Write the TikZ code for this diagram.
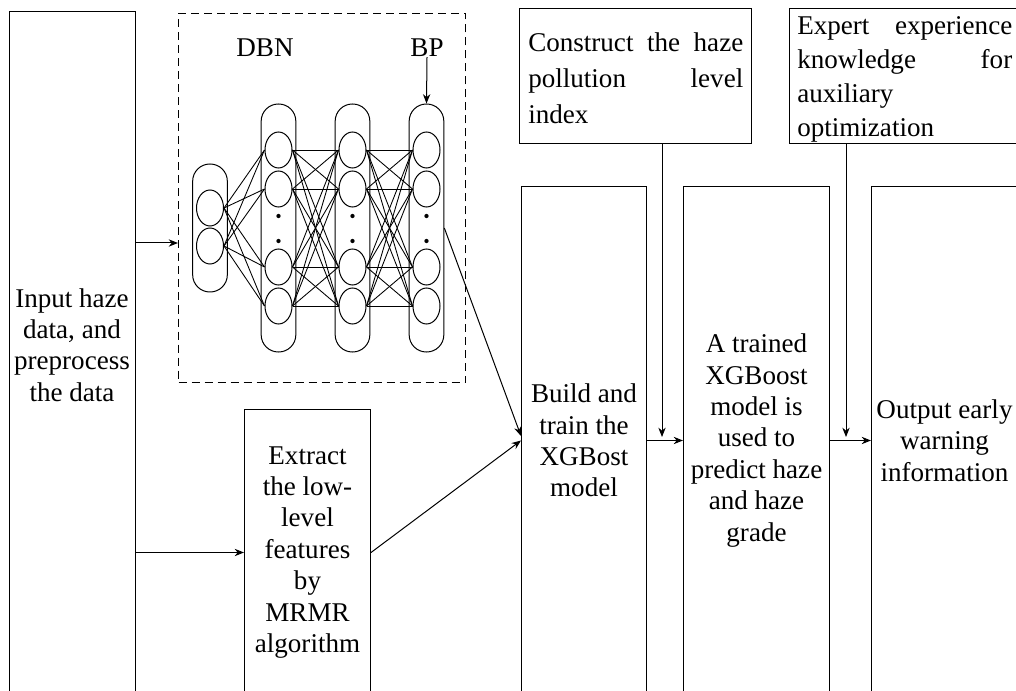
\documentclass[tikz,border=0pt]{standalone}
\usepackage{fontspec}
\setmainfont{Liberation Serif}
\usetikzlibrary{arrows.meta,shapes.geometric}
\begin{document}
\begin{tikzpicture}[x=0.75pt,y=-0.75pt,
  box/.style={draw,line width=0.75pt,rectangle,inner sep=0pt,anchor=north west,
    font=\fontsize{20.3pt}{23.6pt}\selectfont,align=center},
  txt/.style={font=\fontsize{20.3pt}{23.6pt}\selectfont,align=center,inner sep=0pt},
  arr/.style={line width=0.75pt,-{Stealth[length=7pt,width=5.5pt]}},
  cell/.style={draw,ellipse,line width=0.75pt,minimum width=20.25pt,minimum height=27pt,inner sep=0pt},
  layer/.style={draw,rectangle,rounded corners=12.9pt,line width=0.75pt,minimum width=26pt,inner sep=0pt},
  net/.style={line width=0.65pt},
  dotn/.style={circle,fill,inner sep=0pt,minimum size=3.2pt}]

\useasboundingbox (0,0) rectangle (1016,691);
\clip (0,0) rectangle (1016,691);

% main boxes
\node[box,minimum width=94.5pt,minimum height=525pt] (inp) at (9,11) {};
\node[txt] (inpt) at (72,345) {Input haze\\data, and\\preprocess\\the data};
\node[box,dash pattern=on 6pt off 3.75pt,minimum width=215.25pt,minimum height=276.75pt] (dbn) at (178,13) {};
\node[box,minimum width=94.5pt,minimum height=214.5pt] (ext) at (244,409)
  {Extract\\the low-\\level\\features\\by\\MRMR\\algorithm};
\node[box,minimum width=93.75pt,minimum height=381pt] (build) at (521,186)
  {Build and\\train the\\XGBost\\model};
\node[box,minimum width=109.5pt,minimum height=381pt] (pred) at (683,186)
  {A trained\\XGBoost\\model is\\used to\\predict haze\\and haze\\grade};
\node[box,minimum width=109.5pt,minimum height=381pt] (out) at (871,186)
  {Output early\\warning\\information};
\node[box,minimum width=174pt,minimum height=101.25pt] (cons) at (519,8) {};
\node[box,minimum width=174pt,minimum height=101.25pt] (exp) at (789,8) {};
\node[anchor=north west,inner sep=0pt,font=\fontsize{20.3pt}{27pt}\selectfont,align=left] (const) at (528,32)
  {\hbox to 161.25pt{Construct\hfill the\hfill haze}\\\hbox to 161.25pt{pollution\hfill level}\\index};
\node[anchor=north west,inner sep=0pt,font=\fontsize{20.3pt}{25.6pt}\selectfont,align=left] (expt) at (797,16)
  {\hbox to 161.25pt{Expert\hfill experience}\\\hbox to 161.25pt{knowledge\hfill for}\\auxiliary\\optimization};

% network
\node[txt] (dbnl) at (265,48) {DBN};
\node[txt] (bpl) at (427,48) {BP};
\node[layer,minimum height=96pt] (L1) at (210,228) {};
\node[layer,minimum height=186pt] (L2) at (278.5,228) {};
\node[layer,minimum height=186pt] (L3) at (352.5,228) {};
\node[layer,minimum height=186pt] (L4) at (426.5,228) {};
\node[cell] (c11) at (210,208) {};
\node[cell] (c12) at (210,246) {};
\foreach \l/\x in {2/278.5,3/352.5,4/426.5}{
  \node[cell] (c\l1) at (\x,150) {};
  \node[cell] (c\l2) at (\x,189) {};
  \node[cell] (c\l3) at (\x,267) {};
  \node[cell] (c\l4) at (\x,306) {};
  \node[dotn] (d\l a) at (\x,216) {};
  \node[dotn] (d\l b) at (\x,241) {};
}
\foreach \i in {1,2}{\foreach \j in {1,...,4}{\draw[net] (c1\i.east) -- (c2\j.west);}}
\foreach \i in {1,...,4}{\foreach \j in {1,...,4}{
  \draw[net] (c2\i.east) -- (c3\j.west);
  \draw[net] (c3\i.east) -- (c4\j.west);}}
\draw[arr] (bpl.south) -- (L4.north);

% connectors
\coordinate (ya) at (0,243);
\coordinate (yb) at (0,436);
\coordinate (cd) at (662,437);
\coordinate (ed) at (846,437);
\draw[arr] (inp.east |- ya) -- (dbn.west |- ya);
\draw[arr] (inp.east |- ext.west) -- (ext.west);
\draw[arr] (L4.east) -- (build.west |- yb);
\draw[arr] (ext.east) -- (build.west);
\draw[arr] (build.east) -- (pred.west);
\draw[arr] (pred.east) -- (out.west);
\draw[arr] (cons.south -| cd) -- (cd);
\draw[arr] (exp.south -| ed) -- (ed);
\end{tikzpicture}
\end{document}
